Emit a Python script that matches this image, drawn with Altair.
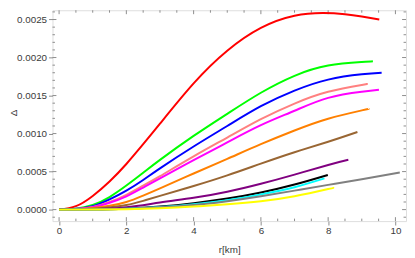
import altair as alt
import pandas as pd
import numpy as np

# ---- series (Δ in units of 1e-3) ----
SERIES = ["red", "green", "blue", "pink", "magenta", "orange", "brown",
          "purple", "black", "cyan", "gray", "yellow"]
COLORS = ["#ff0000", "#00ff00", "#0000ff", "#ff8080", "#ff00ff", "#ff8000",
          "#996633", "#800080", "#000000", "#00ffff", "#808080", "#ffff00"]

red_r = [0, 0.5, 1, 1.5, 2, 2.5, 3, 4, 5, 6, 7, 7.85, 8.5, 9, 9.52]
red_d = [0, 0.045, 0.18, 0.37, 0.60, 0.86, 1.13, 1.66, 2.09, 2.39, 2.55, 2.585, 2.57, 2.54, 2.50]

green_r = [0, 0.5, 1, 1.5, 2, 2.5, 3, 4, 5, 6, 7, 8, 9, 9.33]
green_d = [0, 0.013, 0.06, 0.165, 0.316, 0.484, 0.654, 0.969, 1.26, 1.537, 1.76, 1.895, 1.941, 1.951]

blue_r = [0, 0.5, 1, 1.5, 2, 2.5, 3, 4, 5, 6, 7, 8, 9, 9.59]
blue_d = [0, 0.01, 0.045, 0.135, 0.25, 0.39, 0.543, 0.83, 1.10, 1.36, 1.565, 1.71, 1.78, 1.80]

pink_r = [0, 0.5, 1, 1.5, 2, 2.5, 3, 4, 5, 6, 7, 8, 9, 9.13]
pink_d = [0, 0.008, 0.035, 0.10, 0.195, 0.315, 0.44, 0.70, 0.948, 1.19, 1.395, 1.55, 1.64, 1.65]

magenta_r = [0, 0.5, 1, 1.5, 2, 2.5, 3, 4, 5, 6, 7, 8, 9, 9.51]
magenta_d = [0, 0.007, 0.03, 0.09, 0.175, 0.29, 0.41, 0.65, 0.884, 1.11, 1.30, 1.47, 1.55, 1.576]

orange_r = [0, 0.5, 1, 1.5, 2, 2.5, 3, 4, 5, 6, 7, 8, 9, 9.21]
orange_d = [0, 0.004, 0.02, 0.05, 0.10, 0.185, 0.28, 0.475, 0.667, 0.86, 1.04, 1.195, 1.305, 1.327]

brown_r = [0, 1, 1.5, 2, 2.5, 3, 4, 5, 6, 7, 8, 8.87]
brown_d = [0, 0.01, 0.03, 0.06, 0.115, 0.18, 0.31, 0.45, 0.605, 0.755, 0.893, 1.021]

purple_r = [0, 1, 2, 3, 4, 5, 6, 7, 8, 8.6]
purple_d = [0, 0.005, 0.03, 0.093, 0.155, 0.235, 0.34, 0.46, 0.587, 0.655]

black_r = [0, 1, 2, 3, 4, 5, 6, 7, 7.99]
black_d = [0, 0.002, 0.012, 0.04, 0.085, 0.145, 0.225, 0.33, 0.456]

cyan_r = [0, 1, 2, 3, 4, 5, 6, 7, 7.89]
cyan_d = [0, 0.002, 0.01, 0.033, 0.072, 0.125, 0.20, 0.295, 0.41]

gray_r = [0, 1, 2, 3, 4, 5, 6, 7, 8, 9, 10.13]
gray_d = [0, 0.002, 0.01, 0.03, 0.06, 0.11, 0.175, 0.25, 0.325, 0.40, 0.487]

yellow_r = [0, 1, 2, 3, 4, 5, 6, 7, 8, 8.13]
yellow_d = [0, 0.001, 0.006, 0.018, 0.04, 0.07, 0.11, 0.175, 0.27, 0.284]

DATA = {
    "red": (red_r, red_d), "green": (green_r, green_d), "blue": (blue_r, blue_d),
    "pink": (pink_r, pink_d), "magenta": (magenta_r, magenta_d),
    "orange": (orange_r, orange_d), "brown": (brown_r, brown_d),
    "purple": (purple_r, purple_d), "black": (black_r, black_d),
    "cyan": (cyan_r, cyan_d), "gray": (gray_r, gray_d), "yellow": (yellow_r, yellow_d),
}

# ---- axes ----
X_TICKS = [0, 2, 4, 6, 8, 10]
Y_TICKS = [0.0, 0.0005, 0.0010, 0.0015, 0.0020, 0.0025]
X_DOMAIN = [-0.196, 10.315]
Y_DOMAIN = [-0.000151, 0.002622]
X_MINOR_STEP = 0.5
Y_MINOR_STEP = 0.0001

W, H = 360, 214.7
FRAME = "#8c8c8c"
TXT = "#3a3a3a"
FONT = "Liberation Sans"

rows = []
for i, s in enumerate(SERIES):
    rr, dd = DATA[s]
    for r, d in zip(rr, dd):
        rows.append({"series": s, "order": i, "r": r, "delta": d * 1e-3})
df = pd.DataFrame(rows)

xminor = [v for v in np.round(np.arange(0, 10.001, X_MINOR_STEP), 3) if v not in X_TICKS]
yminor = [v for v in np.round(np.arange(-0.0001, 0.00262, Y_MINOR_STEP), 5)
          if not any(abs(v - t) < 1e-9 for t in Y_TICKS)]

xs = alt.Scale(domain=X_DOMAIN, nice=False, zero=False)
ys = alt.Scale(domain=Y_DOMAIN, nice=False, zero=False)

lines = alt.Chart(df).mark_line(strokeWidth=2, interpolate="natural").encode(
    x=alt.X("r:Q", scale=xs, axis=alt.Axis(
        values=X_TICKS, format="d", title="r[km]", grid=False, domain=False,
        tickSize=4, tickColor=FRAME, labelPadding=1, labelFontSize=10,
        labelColor=TXT, labelFont=FONT, titleFont=FONT, titleFontSize=10,
        titleColor=TXT, titleFontWeight="normal", titleBaseline="alphabetic",
        titleY=32)),
    y=alt.Y("delta:Q", scale=ys, axis=alt.Axis(
        values=Y_TICKS, format=".4f", title="Δ", grid=False, domain=False,
        tickSize=4, tickColor=FRAME, labelPadding=2, labelFontSize=10,
        labelColor=TXT, labelFont=FONT, titleFont=FONT, titleFontSize=10,
        titleColor=TXT, titleFontWeight="normal", titleBaseline="middle",
        titleX=-40, titleY=104)),
    color=alt.Color("series:N", scale=alt.Scale(domain=SERIES, range=COLORS), legend=None),
    order=alt.Order("order:Q"),
    detail="series:N",
)

def xticks(vals, length):
    d = pd.DataFrame({"v": vals})
    bot = alt.Chart(d).mark_rule(color=FRAME, strokeWidth=1).encode(
        x=alt.X("v:Q", scale=xs), y=alt.value(H), y2=alt.value(H - length))
    top = alt.Chart(d).mark_rule(color=FRAME, strokeWidth=1).encode(
        x=alt.X("v:Q", scale=xs), y=alt.value(0), y2=alt.value(length))
    return [bot, top]

def yticks(vals, length):
    d = pd.DataFrame({"v": vals})
    left = alt.Chart(d).mark_rule(color=FRAME, strokeWidth=1).encode(
        y=alt.Y("v:Q", scale=ys), x=alt.value(0), x2=alt.value(length))
    right = alt.Chart(d).mark_rule(color=FRAME, strokeWidth=1).encode(
        y=alt.Y("v:Q", scale=ys), x=alt.value(W), x2=alt.value(W - length))
    return [left, right]

tick_layers = xticks(X_TICKS, 4) + xticks(xminor, 2.5) + yticks(Y_TICKS, 4) + yticks(yminor, 2.5)

chart = alt.layer(*tick_layers, lines).properties(
    width=W, height=H,
    autosize=alt.AutoSizeParams(type="none"),
    padding={"left": 45.3, "top": 0, "right": 1, "bottom": 35.3},
).configure_view(stroke=FRAME, strokeWidth=1).configure(background="white")

chart.save("out.html", embed_options={"renderer": "svg", "actions": False})
